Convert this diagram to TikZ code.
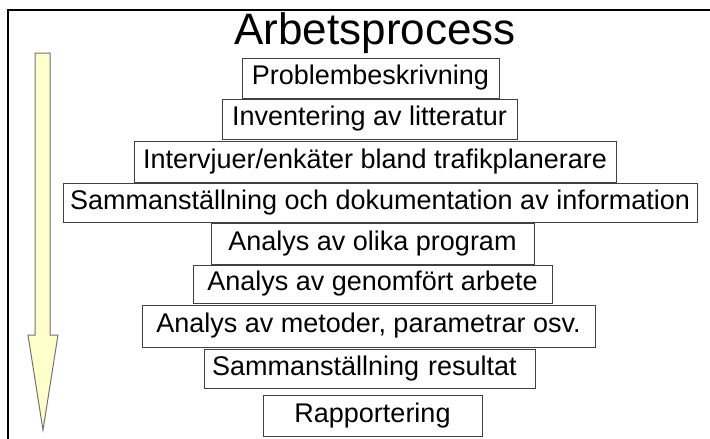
\documentclass[tikz,border=0pt]{standalone}
\usepackage{fontspec}
\setmainfont{Liberation Sans}
\colorlet{box edge}{black!75}
\definecolor{arrow area}{HTML}{FFFFCC}
\colorlet{arrow edge}{black!55}
\tikzset{
  frame/.style={draw=black, line width=2.5pt},
  stepbox/.style={draw=box edge, fill=white, line width=1pt, inner sep=0pt,
    minimum height=40pt, text height=19.5pt, text depth=5.7pt,
    font=\fontsize{27}{32}\selectfont},
  bigarrow/.style={fill=arrow area, draw=arrow edge, line width=1pt},
  heading/.style={inner sep=0pt, anchor=base, font=\fontsize{44}{50}\selectfont}
}
\begin{document}
\begin{tikzpicture}[x=1pt, y=-1pt]
    \useasboundingbox (0,0) rectangle (710,439);
    \draw[frame] (8,440) -- (8,10) -- (711,10);
    \node[heading] (title) at (375,45) {Arbetsprocess};
    % pil
    \draw[bigarrow] (35,53) -- (50,53) -- (50,335) -- (58,335) -- (43,430)
      -- (28,335) -- (35,335) -- cycle;
    % steg
    \node[stepbox, minimum width=257pt] (s1) at (370.5,78) {Problembeskrivning};
    \node[stepbox, minimum width=295pt] (s2) at (369.5,119) {Inventering av litteratur};
    \node[stepbox, minimum width=482pt, minimum height=41pt] (s3) at (375,161.5) {Intervjuer/enkäter bland trafikplanerare};
    \node[stepbox, minimum width=634pt, minimum height=39pt] (s4) at (380,203) {Sammanställning och dokumentation av information};
    \node[stepbox, minimum width=323pt, minimum height=41pt] (s5) at (372.5,243.5) {Analys av olika program};
    \node[stepbox, minimum width=359pt, minimum height=38pt] (s6) at (372.5,284) {Analys av genomfört arbete};
    \node[stepbox, minimum width=453pt, minimum height=42pt] (s7) at (368.5,326) {Analys av metoder, parametrar osv.};
    \node[stepbox, inner xsep=8pt, text width=315pt, align=left, minimum height=39pt] (s8) at (369.5,368.5) {Sammanställning resultat};
    \node[stepbox, minimum width=219pt, minimum height=41pt] (s9) at (372.5,415.5) {Rapportering};
\end{tikzpicture}
\end{document}
